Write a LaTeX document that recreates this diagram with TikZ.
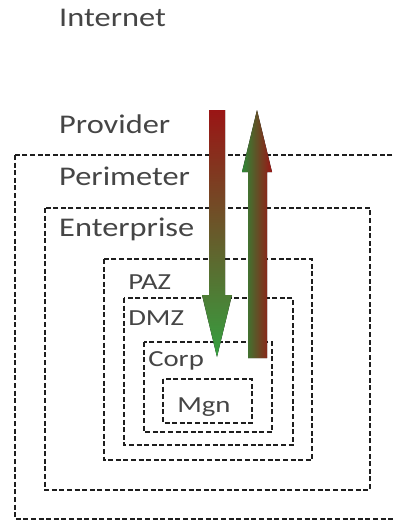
\documentclass[tikz,border=0pt]{standalone}
\usepackage{fontspec}
\setmainfont{Carlito}
\definecolor{txt}{HTML}{454545}
\definecolor{ln}{HTML}{1E1E1E}
\definecolor{dred}{HTML}{9A1515}
\definecolor{lgreen}{HTML}{35A040}
\begin{document}
\begin{tikzpicture}[x=1pt,y=-1pt,
  zone/.style={draw=ln, line width=2pt, dash pattern=on 5pt off 2.6pt},
  lbl/.style={anchor=west, inner sep=0pt, text=txt},
  big/.style={lbl, xscale=1.2, font=\fontsize{27}{30}\selectfont},
  small/.style={lbl, xscale=1.25, font=\fontsize{23}{26}\selectfont}]
\useasboundingbox (0,0) rectangle (395,522);
\begin{scope}
\clip (0,0) rectangle (395,522);
\draw[zone] (15,155) rectangle (402,519);
\end{scope}
\draw[zone] (45,208) rectangle (370,490);
\draw[zone] (104,259) rectangle (312,460);
\draw[zone] (124,298) rectangle (293,445);
\draw[zone] (144,342) rectangle (272,432);
\draw[zone] (163,379) rectangle (252,423);
\node[big] (internet) at (59,18) {Internet};
\node[big] (provider) at (59,124) {Provider};
\node[big] (perimeter) at (59,176) {Perimeter};
\node[big] (enterprise) at (59,229) {Enterprise};
\node[small] (paz) at (128,282) {PAZ};
\node[small] (dmz) at (128,318) {DMZ};
\node[small] (corp) at (148,361) {Corp};
\node[small] (mgn) at (177,407) {Mgn};
\fill[top color=dred, bottom color=lgreen]
  (209,110) -- (225,110) -- (225,295) -- (232,295) -- (217,357) -- (202,295) -- (209,295) -- cycle;
\fill[left color=lgreen!85!black, right color=dred]
  (248,358) -- (267,358) -- (267,172) -- (272,172) -- (257,110) -- (242,172) -- (248,172) -- cycle;
\end{tikzpicture}
\end{document}
